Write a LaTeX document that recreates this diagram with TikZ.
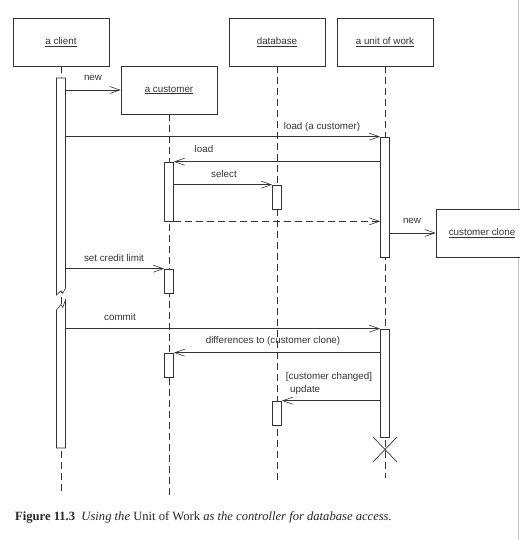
\documentclass[tikz,border=0pt]{standalone}
\usepackage{fontspec}
\setmainfont{Liberation Serif}
\newfontfamily\diagfont{Liberation Sans}
\usetikzlibrary{arrows.meta,calc}
\definecolor{ln}{gray}{0.2}
\definecolor{tx}{gray}{0.2}
\begin{document}
\begin{tikzpicture}[x=1pt,y=-1pt,
  every node/.style={font=\diagfont\fontsize{9.8}{11}\selectfont, text=tx},
  obj/.style={draw=ln, line width=0.6pt, fill=white, inner sep=0pt, minimum height=48pt},
  shadowedge/.style={draw=ln, line width=1.3pt},
  act/.style={draw=ln, line width=0.6pt, fill=white, minimum width=9pt, inner sep=0pt},
  life/.style={draw=ln, line width=0.6pt, dash pattern=on 7pt off 4pt},
  msg/.style={draw=ln, line width=0.6pt, -{Straight Barb[length=10pt,width=7pt]}},
  ret/.style={msg, dash pattern=on 7pt off 4pt},
  lbl/.style={inner sep=0pt}]
\useasboundingbox (0,0) rectangle (519,540);
\draw[gray!45, line width=0.6pt] (518.4,0) -- (518.4,540);

% objects
\node[obj, minimum width=96pt] (client) at (61,42) {\underline{a client}};
\node[obj, minimum width=96pt] (cust) at (169,90) {\underline{a customer}};
\node[obj, minimum width=96pt] (db) at (277,42) {\underline{database}};
\node[obj, minimum width=96pt] (uow) at (385,42) {\underline{a unit of work}};
\node[obj, minimum width=92pt] (clone) at (482,233) {\underline{customer clone}};
\foreach \n in {client,cust,db,uow,clone}
  \draw[shadowedge] (\n.south west) -- (\n.south east) -- (\n.north east);

% lifeline ends
\coordinate (clientEnd) at (61,492);
\coordinate (custEnd) at (169,497);
\coordinate (dbEnd) at (277,483);
\coordinate (uowEnd) at (385,478);

\draw[life] (client.south) -- (clientEnd);
\draw[life] (cust.south) -- (custEnd);
\draw[life] (db.south) -- (dbEnd);
\draw[life] (uow.south) -- (uowEnd);

% activation bars
\node[minimum width=9pt, minimum height=212pt, inner sep=0pt] (k1) at (61,184) {};
\node[minimum width=9pt, minimum height=145pt, inner sep=0pt] (k2) at (61,375.5) {};
\filldraw[fill=white, draw=ln, line width=0.6pt]
  (56.5,295) -- (56.5,78) -- (65.5,78) -- (65.5,288.3) -- (62.7,293.3) -- (61,290.7) -- cycle;
\filldraw[fill=white, draw=ln, line width=0.6pt]
  (56.5,310) -- (61,304.5) -- (62.7,307.5) -- (65.5,300) -- (65.5,448) -- (56.5,448) -- cycle;

\node[act, minimum height=59pt] (c1) at (169,191.5) {};
\node[act, minimum height=24pt] (c2) at (169,281) {};
\node[act, minimum height=24pt] (c3) at (169,365) {};
\node[act, minimum height=24pt] (d1) at (277,197) {};
\node[act, minimum height=24pt] (d2) at (277,413) {};
\node[act, minimum height=120pt] (u1) at (385,197) {};
\node[act, minimum height=108pt] (u2) at (385,383) {};

% messages
\draw[msg] (k1.east |- cust.west) -- (cust.west);
\node[lbl] (lnew1) at (93,78) {new};

\draw[msg] (k1.east |- u1.north) -- (u1.north west);
\node[lbl] (lload1) at (322,127) {load (a customer)};

\draw[msg] (u1.west |- c1.north) -- (c1.north east);
\node[lbl] (lload2) at (204,149) {load};

\draw[msg] (c1.east |- d1.north) -- (d1.north west);
\node[lbl] (lselect) at (224,174) {select};

\draw[ret] (c1.south east) -- (u1.west |- c1.south);

\draw[msg] (u1.east |- clone.west) -- (clone.west);
\node[lbl] (lnew2) at (412,221) {new};

\draw[msg] (k1.east |- c2.north) -- (c2.north west);
\node[lbl] (lscl) at (114,258) {set credit limit};

\draw[msg] (k2.east |- u2.north) -- (u2.north west);
\node[lbl] (lcommit) at (120,317) {commit};

\draw[msg] (u2.west |- c3.north) -- (c3.north east);
\node[lbl] (ldiff) at (273,341) {differences to (customer clone)};

\draw[msg] (u2.west |- d2.north) -- (d2.north east);
\node[lbl] (lcc) at (329,377) {[customer changed]};
\node[lbl, anchor=west] (lupd) at (290,390) {update};

% destruction
\coordinate (xc) at (385,449.5);
\draw[ln, line width=0.7pt] ($(xc)+(-12,-12.5)$) -- ($(xc)+(12,12.5)$);
\draw[ln, line width=0.7pt] ($(xc)+(12,-12.5)$) -- ($(xc)+(-12,12.5)$);

% caption
\node[anchor=base west, inner sep=0pt, font=\rmfamily\fontsize{12.6}{14}\selectfont, text=black!85] (cap) at (15,520)
  {\textbf{Figure 11.3}\enspace\textit{Using the} Unit of Work \textit{as the controller for database access.}};
\end{tikzpicture}
\end{document}
